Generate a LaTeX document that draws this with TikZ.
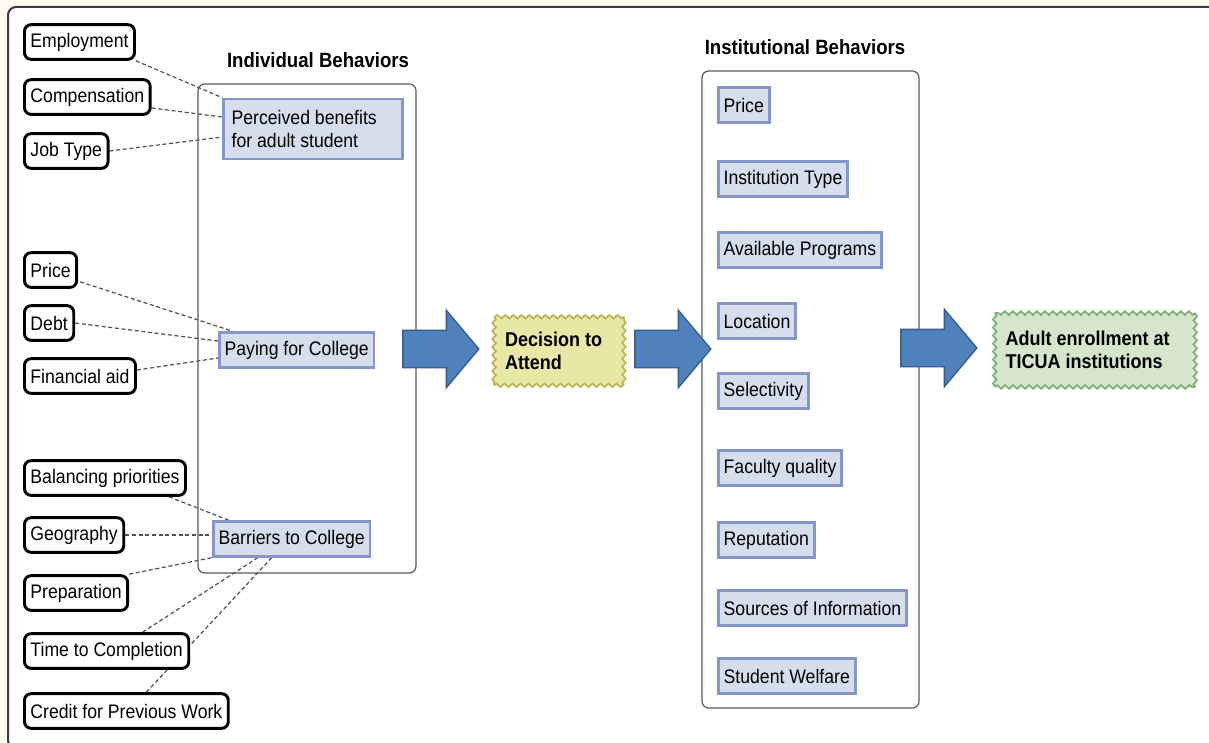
\documentclass[tikz,border=0pt]{standalone}
\usepackage{fontspec}
\setmainfont{Liberation Sans}[FakeStretch=0.9]
\usetikzlibrary{shapes.arrows,decorations.pathmorphing,fit,calc,backgrounds}

\definecolor{cream}{RGB}{255,251,240}
\definecolor{framegray}{RGB}{60,60,60}
\definecolor{panelgray}{RGB}{90,90,90}
\definecolor{depgray}{RGB}{80,80,80}
\definecolor{conceptfill}{RGB}{214,221,236}
\definecolor{conceptedge}{RGB}{134,150,200}
\definecolor{arrowfill}{RGB}{79,129,189}
\definecolor{arrowedge}{RGB}{56,93,138}
\definecolor{decisionfill}{RGB}{233,231,166}
\definecolor{decisionedge}{RGB}{190,184,90}
\definecolor{outcomefill}{RGB}{214,230,205}
\definecolor{outcomeedge}{RGB}{130,178,120}

\begin{document}
\begin{tikzpicture}[
        x=0.75pt, y=-0.75pt,
        every node/.style={font=\fontsize{14.7}{17.25}\selectfont},
        factor/.style={draw=black, line width=2.2pt, rounded corners=5pt,
            fill=white, inner xsep=4.5pt, minimum height=26pt, anchor=west},
        concept/.style={draw=conceptedge, line width=2pt, fill=conceptfill,
            inner xsep=4pt, minimum height=26pt},
        panel/.style={draw=panelgray, line width=0.9pt, rounded corners=5pt,
            inner sep=0pt},
        heading/.style={font=\fontsize{15.5}{17.25}\selectfont\bfseries},
        dep/.style={draw=depgray, dash pattern=on 3pt off 2pt, line width=0.9pt},
        bigarrow/.style={single arrow, draw=arrowedge, fill=arrowfill,
            line width=1pt, minimum height=57pt, minimum width=0pt,
            inner xsep=0pt, inner ysep=13.5pt, single arrow head extend=15pt,
            single arrow tip angle=100, single arrow head indent=0pt},
        wavybox/.style={align=flush left, heading,
            font=\fontsize{15}{17.25}\selectfont\bfseries},
        wavyline/.style={decorate, line width=1.4pt,
            decoration={snake, amplitude=1.3pt, segment length=6pt}}
    ]
    \useasboundingbox (0,0) rectangle (1209,742);

    % left side factors
    \node[factor] (emp)  at (23,42)  {Employment};
    \node[factor] (comp) at (23,97)  {Compensation};
    \node[factor] (job)  at (23,151) {Job Type};
    \node[factor] (price) at (23,270) {Price};
    \node[factor] (debt) at (23,323) {Debt};
    \node[factor] (fin)  at (23,376) {Financial aid};
    \node[factor] (bal)  at (23,478) {Balancing priorities};
    \node[factor] (geo)  at (23,535) {Geography};
    \node[factor] (prep) at (23,593) {Preparation};
    \node[factor] (ttc)  at (23,651) {Time to Completion};
    \node[factor] (cred) at (23,711) {Credit for Previous Work};

    % individual behaviors
    \node[panel, fit={(198,84) (416,573)}] (indiv) {};
    \node[heading] (indivtitle) at (318,60) {Individual Behaviors};
    \node[concept, text width=122pt, inner xsep=6pt, minimum height=45pt,
        align=flush left] (perc) at (313,129) {Perceived benefits\\for adult student};
    \node[concept, anchor=west] (pay) at (218,350) {Paying for College};
    \node[concept, anchor=west] (barr) at (212,539) {Barriers to College};

    % institutional behaviors
    \node[panel, fit={(702,71) (919,708)}] (inst) {};
    \node[heading] (insttitle) at (805,47) {Institutional Behaviors};
    \node[concept, anchor=west] (iprice) at (717,105) {Price};
    \node[concept, anchor=west] (itype)  at (717,179) {Institution Type};
    \node[concept, anchor=west] (iprog)  at (717,250) {Available Programs};
    \node[concept, anchor=west] (iloc)   at (717,321) {Location};
    \node[concept, anchor=west] (isel)   at (717,391) {Selectivity};
    \node[concept, anchor=west] (ifac)   at (717,468) {Faculty quality};
    \node[concept, anchor=west] (irep)   at (717,540) {Reputation};
    \node[concept, anchor=west] (isrc)   at (717,608) {Sources of Information};
    \node[concept, anchor=west] (iwelf)  at (717,676) {Student Welfare};

    % decision and outcome
    \node[wavybox, fill=decisionfill, text width=81pt,
        inner xsep=8pt, minimum height=51pt] (dec) at (559,351)
        {Decision to\\Attend};
    \node[wavybox, fill=outcomefill, text width=134pt,
        inner xsep=8pt, minimum height=55pt] (out) at (1095,350)
        {Adult enrollment at\\TICUA institutions};
    \foreach \a/\b in {south west/south east, south east/north east,
        north east/north west, north west/south west} {
        \draw[wavyline, decisionedge] (dec.\a) -- (dec.\b);
        \draw[wavyline, outcomeedge] (out.\a) -- (out.\b);
    }

    \node[bigarrow] (arrA) at (433,349) {};
    \node[bigarrow] (arrB) at (665,349) {};
    \node[bigarrow] (arrC) at (931,348) {};

    \begin{scope}[on background layer]
        \fill[cream] (0,0) rectangle (1209,742);
        \draw[framegray, line width=1.5pt, fill=white, rounded corners=6pt]
            (8,7) rectangle (1240,748);
        % dashed links
        \draw[dep] (emp.south east) -- (perc.north west);
        \draw[dep] ($(comp.east)+(0,11)$) -- ($(perc.west)+(0,-12)$);
        \draw[dep] (job.east) -- ($(perc.west)+(0,8)$);
        \draw[dep] ($(price.south east)+(2,-7)$) -- ($(pay.north west)+(15,0)$);
        \draw[dep] (debt.east) -- ($(pay.west)+(0,-9)$);
        \draw[dep] ($(fin.east)+(0,-6)$) -- ($(pay.west)+(0,8)$);
        \draw[dep] ($(bal.south east)+(-18,0)$) -- ($(barr.north west)+(17,0)$);
        \draw[dep] (geo.east) -- (geo.east -| barr.west);
        \draw[dep] (prep.north east) -- (barr.south west);
        \draw[dep] ($(ttc.north)+(36,0)$) -- ($(barr.south)+(-34,0)$);
        \draw[dep] ($(cred.north)+(20,0)$) -- ($(barr.south)+(-20,0)$);
    \end{scope}
\end{tikzpicture}
\end{document}
